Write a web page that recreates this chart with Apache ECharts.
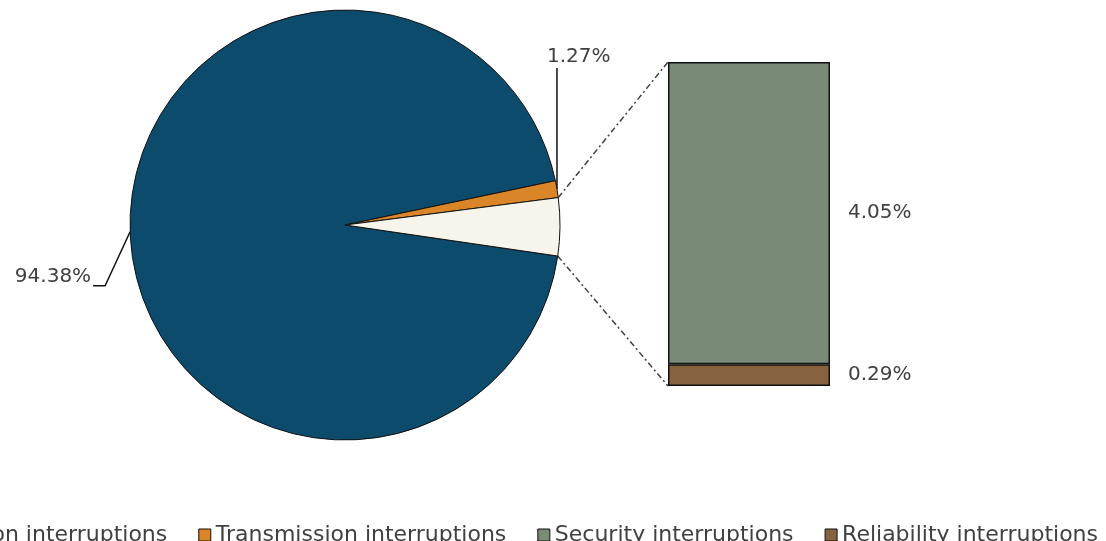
<!DOCTYPE html>
<html>
<head>
<meta charset="utf-8">
<script src="https://cdn.jsdelivr.net/npm/echarts@6/dist/echarts.min.js"></script>
<style>
  html, body { margin: 0; padding: 0; background: #fff; }
  #main { width: 1106px; height: 541px; }
</style>
</head>
<body>
<div id="main"></div>
<script>
// shares of all interruptions, in percent
var pieNames = ['Distribution interruptions', 'Transmission interruptions', 'Other'];
var pieValues = [94.38, 1.27];
var barNames = ['Reliability interruptions', 'Security interruptions'];
var barValues = [0.29, 4.05];
var legendNames = ['Distribution interruptions', 'Transmission interruptions', 'Security interruptions', 'Reliability interruptions'];

var colors = {
    'Distribution interruptions': '#0d4b6d',
    'Transmission interruptions': '#da8527',
    'Other': '#f7f4ec',
    'Security interruptions': '#798b76',
    'Reliability interruptions': '#86623f'
};

var textColor = '#404040';
var font = 'DejaVu Sans';

// layout
var cx = 345, cy = 225, r = 215;
var startAngle = -8.3;
var gridLeft = 668, gridTop = 62, gridW = 162, gridH = 324;

var otherValue = +(barValues[0] + barValues[1]).toFixed(2);
var pieData = [
    {name: pieNames[0], value: pieValues[0]},
    {name: pieNames[1], value: pieValues[1]},
    {name: pieNames[2], value: otherValue, label: {show: false}, labelLine: {show: false}}
];
pieData.forEach(function (d) {
    d.itemStyle = {color: colors[d.name]};
});

var dom = document.getElementById('main');
var myChart = echarts.init(dom);

// point on the pie's edge at an angle (degrees, counter-clockwise from 3 o'clock)
function edge(deg) {
    var a = deg * Math.PI / 180;
    return [cx + r * Math.cos(a), cy - r * Math.sin(a)];
}

var pieTotal = pieData.reduce(function (s, d) { return s + d.value; }, 0);
var sliceAngles = [];
var acc = startAngle;
pieData.forEach(function (d) {
    var span = d.value / pieTotal * 360;
    sliceAngles.push([acc, acc - span]);
    acc -= span;
});

var barSeries = barNames.map(function (name, i) {
    return {
        name: name,
        type: 'bar',
        stack: 'other',
        xAxisIndex: 0,
        yAxisIndex: 0,
        barWidth: '100%',
        data: [barValues[i]],
        itemStyle: {color: colors[name], borderColor: '#111', borderWidth: 1.5},
        label: {
            show: true,
            position: 'right',
            distance: 18,
            formatter: function (p) { return p.value.toFixed(2) + '%'; },
            color: textColor,
            fontSize: 20,
            fontFamily: font
        }
    };
});

option = {
    animation: false,
    color: legendNames.map(function (n) { return colors[n]; }),
    legend: {
        data: legendNames,
        left: -132,
        top: 519,
        width: 1600,
        itemWidth: 12,
        itemHeight: 12,
        itemGap: 31,
        icon: 'rect',
        itemStyle: {borderColor: '#111', borderWidth: 1},
        textStyle: {color: textColor, fontSize: 22, fontFamily: font}
    },
    grid: {left: gridLeft, top: gridTop, width: gridW, height: gridH},
    xAxis: {type: 'category', data: ['Other'], show: false},
    yAxis: {type: 'value', min: 0, max: otherValue, show: false},
    series: [
        {
            type: 'pie',
            center: [cx, cy],
            radius: r,
            startAngle: startAngle,
            clockwise: true,
            data: pieData,
            itemStyle: {borderColor: '#111', borderWidth: 1},
            emphasis: {disabled: true},
            label: {
                show: true,
                overflow: 'none',
                formatter: function (p) { return p.value.toFixed(2) + '%'; },
                color: textColor,
                fontSize: 20,
                fontFamily: font
            },
            labelLine: {show: true, lineStyle: {color: '#111', width: 1.5}},
            labelLayout: function (p) {
                var ang = sliceAngles[p.dataIndex];
                var a = edge((ang[0] + ang[1]) / 2);
                if (p.dataIndex === 0) {
                    return {
                        x: a[0] - 39, y: a[1] + 55,
                        align: 'right', verticalAlign: 'bottom',
                        labelLinePoints: [a, [a[0] - 25, a[1] + 54], [a[0] - 37, a[1] + 54]]
                    };
                }
                if (p.dataIndex === 1) {
                    return {
                        x: a[0] - 10, y: a[1] - 122,
                        align: 'left', verticalAlign: 'bottom',
                        labelLinePoints: [a, [a[0], a[1] - 121], [a[0], a[1] - 121]]
                    };
                }
                return {};
            }
        }
    ].concat(barSeries)
};

// dash-dot connectors from the "Other" slice to the bar
var otherAng = sliceAngles[2];
var pTop = edge(otherAng[0]);
var pBot = edge(otherAng[1]);
var connStyle = {stroke: '#404040', lineWidth: 1.5, lineDash: [6, 3, 2, 3]};
option.graphic = [
    {type: 'line', shape: {x1: pTop[0], y1: pTop[1], x2: gridLeft, y2: gridTop}, style: connStyle, z: 1},
    {type: 'line', shape: {x1: pBot[0], y1: pBot[1], x2: gridLeft, y2: gridTop + gridH}, style: connStyle, z: 1}
];

if (option && typeof option === "object") {
    myChart.setOption(option, true);
}
</script>
</body>
</html>
